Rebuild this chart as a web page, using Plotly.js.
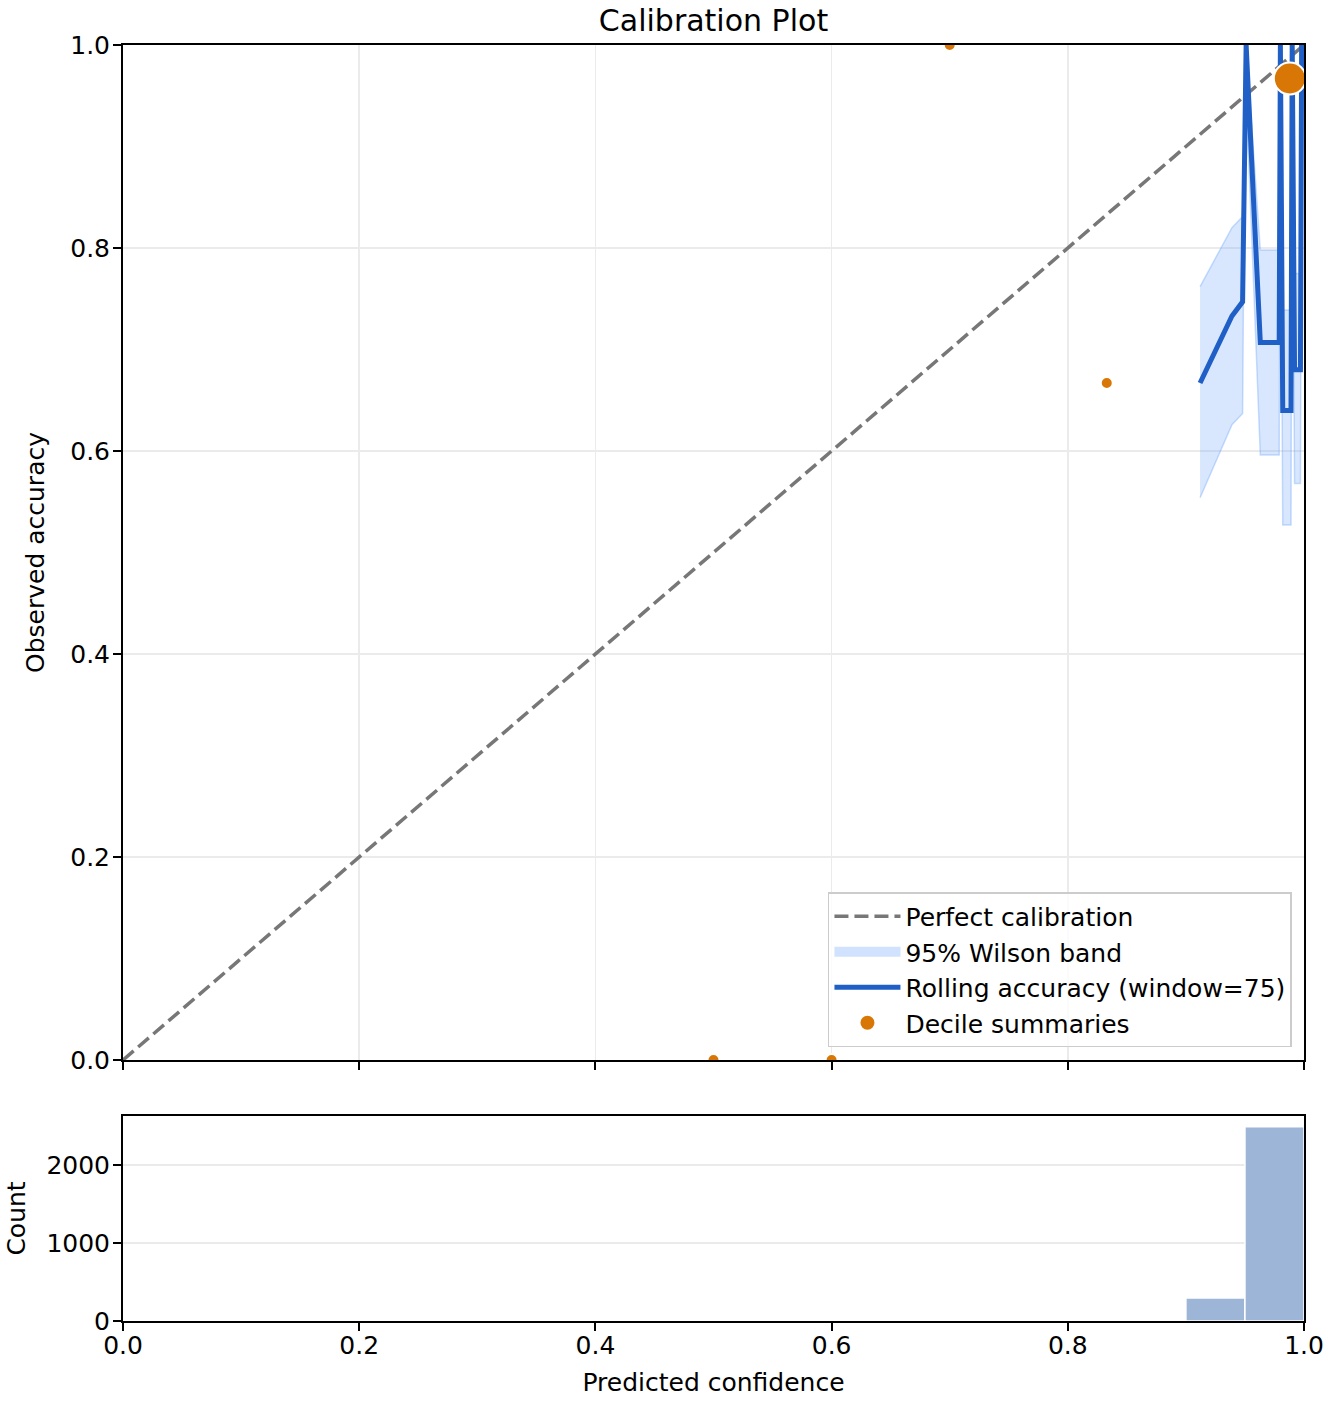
<!DOCTYPE html>
<html><head><meta charset="utf-8">
<script src="https://cdn.plot.ly/plotly-3.0.1.min.js"></script>
<style>html,body{margin:0;padding:0;background:#fff}#chart{width:1332px;height:1404px}</style>
</head><body><div id="chart"></div>
<script>
// ---- data ----
const diagX = [0, 1];
const diagY = [0, 1];

const rollX = [0.912, 0.939, 0.948, 0.950, 0.951, 0.963, 0.979, 0.980, 0.982, 0.989, 0.990, 0.992, 0.997, 0.998];
const rollY = [0.667, 0.733, 0.747, 1.000, 1.000, 0.707, 0.707, 1.000, 0.640, 0.640, 1.000, 0.680, 0.680, 1.000];
const bandLow  = [0.554, 0.626, 0.637, 0.951, 0.951, 0.596, 0.596, 0.951, 0.527, 0.527, 0.951, 0.568, 0.568, 0.951];
const bandHigh = [0.762, 0.820, 0.831, 1.000, 1.000, 0.798, 0.798, 1.000, 0.739, 0.739, 1.000, 0.775, 0.775, 1.000];

const decileX = [0.500, 0.600, 0.700, 0.833, 0.988];
const decileY = [0.000, 0.000, 1.000, 0.667, 0.967];

const histBinLeft = [0.90, 0.95];
const histCount = [295, 2490];
const histBinWidth = 0.05;

const xTicks = [0, 0.2, 0.4, 0.6, 0.8, 1.0];
const yTicks = [0, 0.2, 0.4, 0.6, 0.8, 1.0];
const countTicks = [0, 1000, 2000];

// ---- styles ----
const decileMarkerSize = [12, 12, 12, 12, 32];
const FONT = 'DejaVu Sans, sans-serif';
const FS = 25;
const BAND_FILL = 'rgba(100,160,250,0.25)';
const BAND_EDGE = 'rgba(100,160,250,0.35)';

// band polygon: upper edge forward, lower edge backward
const bandPolyX = rollX.concat(rollX.slice().reverse());
const bandPolyY = bandHigh.concat(bandLow.slice().reverse());

const traces = [
  {x: diagX, y: diagY, xaxis: 'x2', yaxis: 'y2', mode: 'lines', name: 'Perfect calibration',
   legendgroup: 'g1', line: {color: '#777777', width: 3.5, dash: '14px,6px'}, hoverinfo: 'skip'},
  {x: bandPolyX, y: bandPolyY, xaxis: 'x2', yaxis: 'y2', mode: 'lines', name: '95% Wilson band',
   legendgroup: 'g2', showlegend: false, fill: 'toself', fillcolor: BAND_FILL,
   line: {color: BAND_EDGE, width: 1.5}, hoverinfo: 'skip'},
  // legend swatch for the band (no data drawn)
  {x: [null], y: [null], xaxis: 'x2', yaxis: 'y2', mode: 'lines', name: '95% Wilson band',
   legendgroup: 'g2', line: {color: 'rgba(100,160,250,0.3)', width: 18}, hoverinfo: 'skip'},
  {x: rollX, y: rollY, xaxis: 'x2', yaxis: 'y2', mode: 'lines', name: 'Rolling accuracy (window=75)',
   legendgroup: 'g3', line: {color: '#1f5fc6', width: 5}},
  {x: decileX, y: decileY, xaxis: 'x2', yaxis: 'y2', mode: 'markers', name: 'Decile summaries',
   legendgroup: 'g4', marker: {color: '#d97706', opacity: 1, size: decileMarkerSize, line: {color: '#ffffff', width: 2}}},
  {x: histBinLeft, y: histCount, xaxis: 'x', yaxis: 'y', type: 'bar', width: histBinWidth, offset: 0,
   showlegend: false, marker: {color: 'rgb(157,181,214)', line: {color: '#ffffff', width: 1.5}}}
];

const axisCommon = {
  showline: true, linecolor: '#000', linewidth: 2, mirror: true,
  ticks: 'outside', ticklen: 8, tickwidth: 2, tickcolor: '#000',
  tickfont: {family: FONT, size: FS, color: '#000'},
  zeroline: false, gridcolor: '#ebebeb', gridwidth: 1.5
};

const layout = {
  width: 1332, height: 1404,
  margin: {l: 123, r: 28, t: 45, b: 83},
  paper_bgcolor: '#fff', plot_bgcolor: '#fff',
  font: {family: FONT, size: FS, color: '#000'},
  title: {text: 'Calibration Plot', font: {family: FONT, size: 30, color: '#000'},
          x: 0.5, xref: 'paper', y: 1 - 20/1404, yref: 'container', yanchor: 'middle'},
  showlegend: true,
  legend: {x: 0.9898, xanchor: 'right', y: 0.2147, yanchor: 'bottom',
           bgcolor: 'rgba(255,255,255,0.8)', bordercolor: '#cccccc', borderwidth: 1.5,
           font: {family: FONT, size: FS, color: '#000'}, tracegroupgap: 0, itemwidth: 66,
           itemsizing: 'trace'},
  xaxis: Object.assign({}, axisCommon, {anchor: 'y', domain: [0, 1], range: [0, 1],
           tickvals: xTicks, tickformat: '.1f', showgrid: false, automargin: false,
           ticklabelstandoff: -7,
           title: {text: 'Predicted confidence', font: {family: FONT, size: FS}, standoff: 14}}),
  yaxis: Object.assign({}, axisCommon, {anchor: 'x', domain: [0, 0.1607], range: [0, 2628],
           tickvals: countTicks, showgrid: true, automargin: false, ticklabelstandoff: -2,
           title: {text: 'Count', font: {family: FONT, size: FS}, standoff: 14}}),
  xaxis2: Object.assign({}, axisCommon, {anchor: 'y2', domain: [0, 1], range: [0, 1], matches: 'x',
           tickvals: xTicks, showticklabels: false, showgrid: true, automargin: false}),
  yaxis2: Object.assign({}, axisCommon, {anchor: 'x2', domain: [0.2045, 1], range: [0, 1],
           tickvals: yTicks, tickformat: '.1f', showgrid: true, automargin: false, ticklabelstandoff: -2,
           title: {text: 'Observed accuracy', font: {family: FONT, size: FS}, standoff: 18}})
};

Plotly.newPlot('chart', traces, layout, {displayModeBar: false, staticPlot: true});
</script></body></html>
